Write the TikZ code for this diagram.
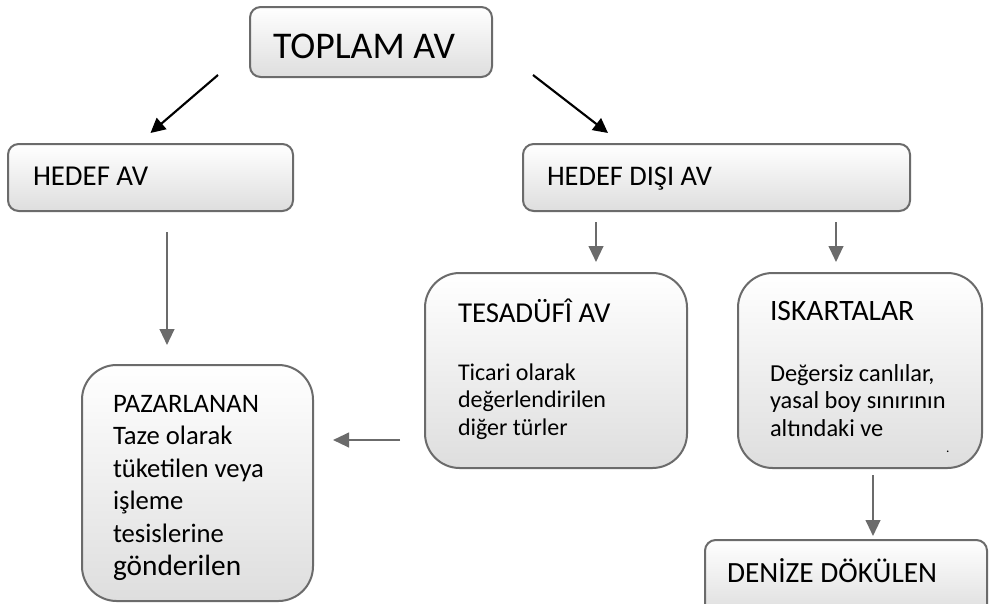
\documentclass[tikz,border=0pt]{standalone}
\usepackage{fontspec}
\setmainfont{Carlito}
\usetikzlibrary{arrows.meta}
\tikzset{
  box/.style={draw=black!58, line width=1.5pt, top color=white, bottom color=black!13, inner sep=0pt, outer sep=0pt},
  sbox/.style={box, rounded corners=8pt},
  bbox/.style={box, rounded corners=26pt},
  txt/.style={inner sep=0pt, outer sep=0pt, anchor=base west, align=left},
  blackarrow/.style={line width=1.6pt, black, -{Triangle[length=11pt,width=11pt]}},
  grayarrow/.style={line width=1.6pt, black!58, -{Triangle[length=12pt,width=11pt]}},
}
\begin{document}
\begin{tikzpicture}[x=0.75pt,y=-0.75pt]
\clip (0,0) rectangle (994,603);
\fill[white] (0,0) rectangle (994,603);
% boxes
\node[sbox, minimum width=242*0.75pt, minimum height=70*0.75pt] (toplam) at (371,42) {};
\node[sbox, minimum width=285*0.75pt, minimum height=67*0.75pt] (hedef) at (150.5,177.5) {};
\node[sbox, minimum width=387*0.75pt, minimum height=67*0.75pt] (disi) at (716.5,177.5) {};
\node[bbox, minimum width=262*0.75pt, minimum height=195*0.75pt] (tesa) at (556,370.5) {};
\node[bbox, minimum width=244*0.75pt, minimum height=195*0.75pt] (iska) at (860,370.5) {};
\node[bbox, minimum width=231*0.75pt, minimum height=236*0.75pt] (pazar) at (197.5,483) {};
\node[sbox, minimum width=282*0.75pt, minimum height=75*0.75pt] (deniz) at (846,577.5) {};
% texts
\node[txt, font=\fontsize{28.3pt}{33pt}\selectfont] (t1) at (273,58) {TOPLAM AV};
\node[txt, font=\fontsize{21.6pt}{26pt}\selectfont] (t2) at (33,185) {HEDEF AV};
\node[txt, font=\fontsize{21.3pt}{26pt}\selectfont] (t3) at (547,185) {HEDEF DIŞI AV};
\node[txt, font=\fontsize{21.6pt}{26pt}\selectfont] (t4) at (458,322) {TESADÜFÎ AV};
\node[txt, font=\fontsize{18pt}{20.6pt}\selectfont] (t5) at (458,435) {Ticari olarak\\değerlendirilen\\diğer türler};
\node[txt, font=\fontsize{22.2pt}{26pt}\selectfont] (t6) at (770,320) {ISKARTALAR};
\node[txt, font=\fontsize{18.3pt}{20.3pt}\selectfont] (t7) at (770,436) {Değersiz canlılar,\\yasal boy sınırının\\altındaki ve};
\node[txt, font=\fontsize{10pt}{12pt}\selectfont] (t8) at (946,452) {.};
\node[txt, font=\fontsize{20pt}{24.45pt}\selectfont] (t9) at (113,575) {PAZARLANAN\\Taze olarak\\tüketilen veya\\işleme\\tesislerine\\{\fontsize{22pt}{24.45pt}\selectfont gönderilen}};
\node[txt, font=\fontsize{22pt}{26pt}\selectfont] (t10) at (727,582) {DENİZE DÖKÜLEN};
% connectors
\draw[blackarrow] (toplam.south west) ++(-32,-2) -- ([shift={(0,-11)}]hedef.north);
\draw[blackarrow] (toplam.south east) ++(41,-2) -- ([shift={(85,-11)}]disi.north west);
\draw[grayarrow] ([shift={(0,11)}]disi.south -| 596,0) -- ([shift={(0,-11)}]tesa.north -| 596,0);
\draw[grayarrow] ([shift={(0,11)}]disi.south -| 836,0) -- ([shift={(0,-11)}]iska.north -| 836,0);
\draw[grayarrow] ([shift={(0,21)}]hedef.south -| 167,0) -- ([shift={(0,-20)}]pazar.north -| 167,0);
\draw[grayarrow] ([shift={(0,7)}]iska.south -| 873,0) -- ([shift={(0,-4)}]deniz.north -| 873,0);
\draw[grayarrow] ([shift={(-25,0)}]tesa.west |- 0,440) -- ([shift={(20,0)}]pazar.east |- 0,440);
\end{tikzpicture}
\end{document}
